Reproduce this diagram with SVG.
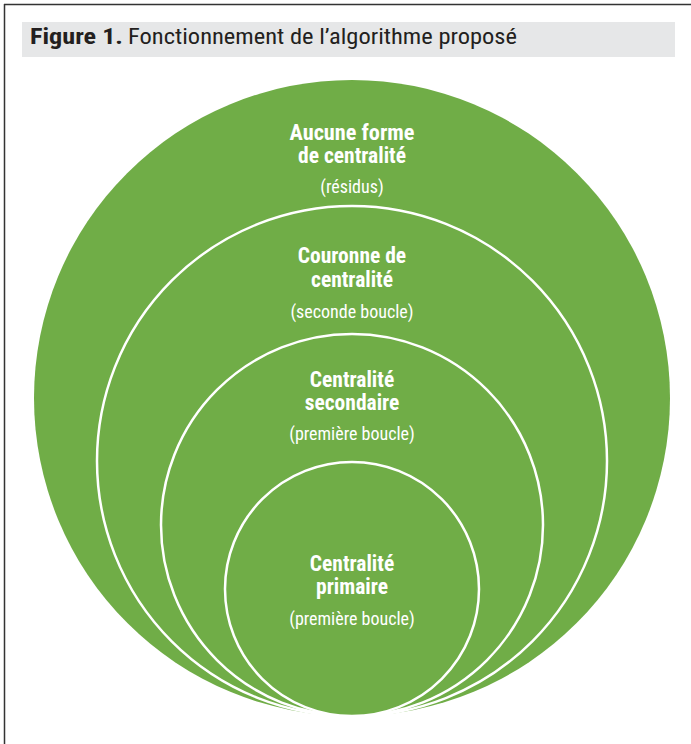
<svg xmlns="http://www.w3.org/2000/svg" width="691" height="744" viewBox="0 0 691 744">
<style>
.ring{fill:#70ad47;stroke:#ffffff;stroke-width:2.5}
.outer{fill:#70ad47;stroke:none}
.lbl{font-family:"Liberation Sans Narrow","Roboto Condensed","Arial Narrow","Liberation Sans",sans-serif;fill:#ffffff;text-anchor:middle}
.b{font-weight:bold;font-size:21.5px}
.s{font-size:18px}
.title{font-family:"Liberation Sans Narrow","Roboto Condensed","Liberation Sans",sans-serif;font-size:22px;fill:#231f20}
</style>
<rect x="0" y="0" width="691" height="744" fill="#ffffff"/>
<line x1="4" y1="4.5" x2="691" y2="4.5" stroke="#333333" stroke-width="1.5"/>
<line x1="4.5" y1="4" x2="4.5" y2="744" stroke="#333333" stroke-width="1.5"/>
<rect x="22" y="22" width="653" height="35" fill="#e6e7e8"/>
<text class="title" x="30" y="44"><tspan font-weight="bold" textLength="93" lengthAdjust="spacingAndGlyphs">Figure 1.</tspan><tspan x="128" textLength="389" lengthAdjust="spacingAndGlyphs">Fonctionnement de l’algorithme proposé</tspan></text>
<g id="n-outer">
<circle class="outer" cx="352" cy="398" r="318"/>
<text class="lbl b" x="352" y="140" textLength="125" lengthAdjust="spacingAndGlyphs">Aucune forme</text>
<text class="lbl b" x="352" y="163">de centralité</text>
<text class="lbl s" x="352" y="193">(résidus)</text>
</g>
<g id="n-couronne">
<circle class="ring" cx="352" cy="461" r="255"/>
<text class="lbl b" x="352" y="263">Couronne de</text>
<text class="lbl b" x="352" y="287">centralité</text>
<text class="lbl s" x="352" y="318">(seconde boucle)</text>
</g>
<g id="n-secondaire">
<circle class="ring" cx="352" cy="525" r="191"/>
<text class="lbl b" x="352" y="387">Centralité</text>
<text class="lbl b" x="352" y="410">secondaire</text>
<text class="lbl s" x="352" y="440">(première boucle)</text>
</g>
<g id="n-primaire">
<circle class="ring" cx="352" cy="589" r="127"/>
<text class="lbl b" x="352" y="571">Centralité</text>
<text class="lbl b" x="352" y="594">primaire</text>
<text class="lbl s" x="352" y="625">(première boucle)</text>
</g>
<g id="connectors"></g>
</svg>
